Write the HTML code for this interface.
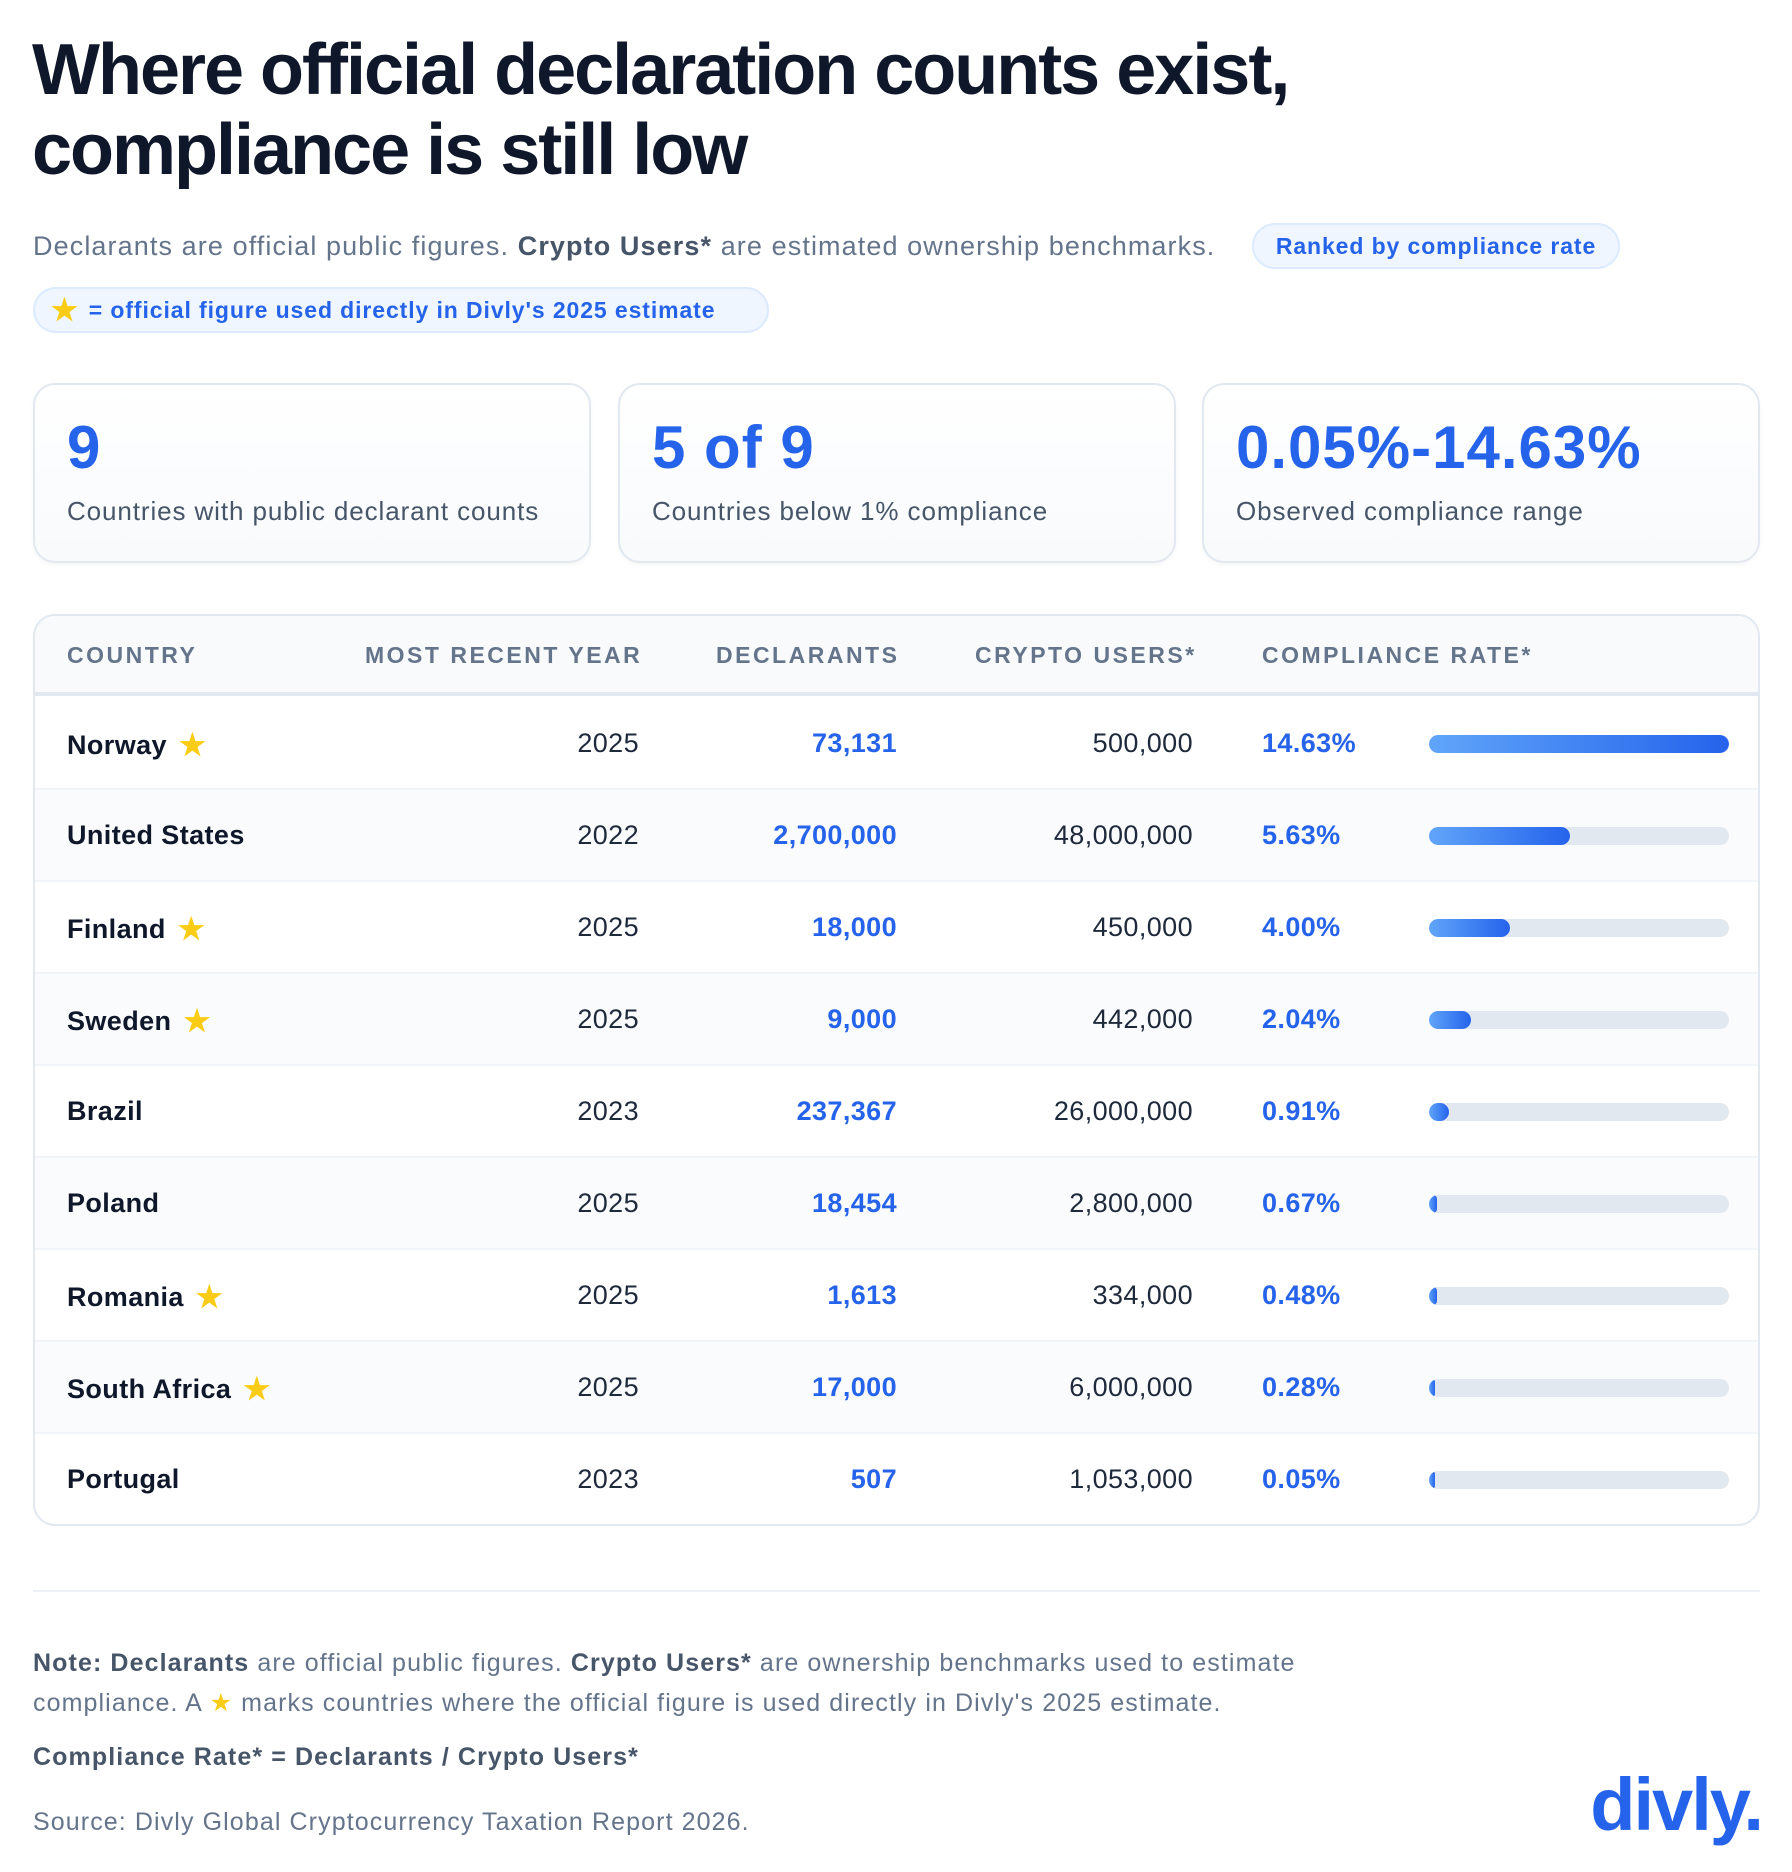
<!DOCTYPE html>
<html><head><meta charset="utf-8"><style>
*{margin:0;padding:0;box-sizing:border-box}
body{width:1792px;height:1872px;background:#fff;font-family:"Liberation Sans",sans-serif;color:#0f172a;position:relative;overflow:hidden}
.abs{position:absolute;white-space:nowrap}
h1{position:absolute;left:32px;top:30px;font-size:72px;line-height:80px;font-weight:700;letter-spacing:-2px;color:#0f172a}
.sub{left:33px;top:231px;font-size:27px;color:#64748b;letter-spacing:1.1px}
.sub b{color:#475569}
.pill{background:#eff6ff;border:2px solid #dbeafe;border-radius:24px;color:#2563eb;font-weight:700;font-size:23px;display:flex;align-items:center;letter-spacing:0.9px}
.card{position:absolute;top:383px;width:558px;height:180px;border:2px solid #e2e8f0;border-radius:22px;background:linear-gradient(#fff,#f8fafc);box-shadow:0 2px 4px rgba(0,0,0,.04)}
.card .n{position:absolute;left:32px;top:28px;font-size:60px;font-weight:700;color:#2563eb;letter-spacing:1px}
.card .l{position:absolute;left:32px;top:111px;font-size:26px;color:#475569;letter-spacing:0.9px}
.tbl{position:absolute;left:33px;top:614px;width:1727px;height:912px;border:2px solid #e2e8f0;border-radius:22px;overflow:hidden}
.hd{position:absolute;left:0;top:0;width:100%;height:80px;background:#f8fafc;border-bottom:4px solid #e2e8f0}
.hd span{position:absolute;top:26px;font-size:23px;font-weight:700;color:#64748b;letter-spacing:2.5px}
.row{position:absolute;left:0;width:100%;height:92px;border-bottom:2px solid #f1f5f9;font-size:27px;letter-spacing:0.4px}
.row>span{position:absolute;top:30px}
.c{left:32px;font-weight:700}
.y{right:1119px;color:#1e293b}
.d{right:861px;color:#2563eb;font-weight:700}
.u{right:565px;color:#1e293b}
.r{left:1227px;color:#2563eb;font-weight:700}
.bar{position:absolute;left:1394px;top:37px;width:300px;height:18px;border-radius:9px;background:#e2e8f0;overflow:hidden}
.bar i{display:block;height:100%;border-radius:9px;background:linear-gradient(90deg,#60a5fa,#2563eb);min-width:6px}
.star{color:#facc15;font-size:30px;margin-left:12px;vertical-align:-1px}
.foot{font-size:25px;color:#64748b;letter-spacing:1.1px}
.foot b{color:#475569}
</style></head><body>
<h1>Where official declaration counts exist,<br>compliance is still low</h1>
<div class="abs sub">Declarants are official public figures. <b>Crypto Users*</b> are estimated ownership benchmarks.</div>
<div class="abs pill" style="left:1252px;top:223px;width:368px;height:46px;justify-content:center">Ranked by compliance rate</div>
<div class="abs pill" style="left:33px;top:287px;width:736px;height:46px;padding-left:16px"><span style="color:#facc15;font-size:30px;margin-right:10px">★</span>= official figure used directly in Divly's 2025 estimate</div>

<div class="card" style="left:33px"><div class="n">9</div><div class="l">Countries with public declarant counts</div></div>
<div class="card" style="left:618px"><div class="n">5 of 9</div><div class="l">Countries below 1% compliance</div></div>
<div class="card" style="left:1202px"><div class="n">0.05%-14.63%</div><div class="l">Observed compliance range</div></div>

<div class="tbl">
<div class="hd"><span style="left:32px">COUNTRY</span><span style="left:330px">MOST RECENT YEAR</span><span style="left:681px">DECLARANTS</span><span style="left:940px">CRYPTO USERS*</span><span style="left:1227px">COMPLIANCE RATE*</span></div>
<div class="row" style="top:82px"><span class="c">Norway<span class="star">★</span></span><span class="y">2025</span><span class="d">73,131</span><span class="u">500,000</span><span class="r">14.63%</span><div class="bar"><i style="width:100%"></i></div></div>
<div class="row" style="top:174px;background:#fafbfc"><span class="c">United States</span><span class="y">2022</span><span class="d">2,700,000</span><span class="u">48,000,000</span><span class="r">5.63%</span><div class="bar"><i style="width:47%"></i></div></div>
<div class="row" style="top:266px"><span class="c">Finland<span class="star">★</span></span><span class="y">2025</span><span class="d">18,000</span><span class="u">450,000</span><span class="r">4.00%</span><div class="bar"><i style="width:27%"></i></div></div>
<div class="row" style="top:358px;background:#fafbfc"><span class="c">Sweden<span class="star">★</span></span><span class="y">2025</span><span class="d">9,000</span><span class="u">442,000</span><span class="r">2.04%</span><div class="bar"><i style="width:14%"></i></div></div>
<div class="row" style="top:450px"><span class="c">Brazil</span><span class="y">2023</span><span class="d">237,367</span><span class="u">26,000,000</span><span class="r">0.91%</span><div class="bar"><i style="width:6.5%"></i></div></div>
<div class="row" style="top:542px;background:#fafbfc"><span class="c">Poland</span><span class="y">2025</span><span class="d">18,454</span><span class="u">2,800,000</span><span class="r">0.67%</span><div class="bar"><i style="width:2.5%"></i></div></div>
<div class="row" style="top:634px"><span class="c">Romania<span class="star">★</span></span><span class="y">2025</span><span class="d">1,613</span><span class="u">334,000</span><span class="r">0.48%</span><div class="bar"><i style="width:2.5%"></i></div></div>
<div class="row" style="top:726px;background:#fafbfc"><span class="c">South Africa<span class="star">★</span></span><span class="y">2025</span><span class="d">17,000</span><span class="u">6,000,000</span><span class="r">0.28%</span><div class="bar"><i style="width:2%"></i></div></div>
<div class="row" style="top:818px;border-bottom:none"><span class="c">Portugal</span><span class="y">2023</span><span class="d">507</span><span class="u">1,053,000</span><span class="r">0.05%</span><div class="bar"><i style="width:2%"></i></div></div>
</div>

<div class="abs" style="left:33px;top:1590px;width:1727px;height:2px;background:#eef2f6"></div>
<div class="abs foot" style="top:1643px;left:33px;line-height:40px"><b>Note: Declarants</b> are official public figures. <b>Crypto Users*</b> are ownership benchmarks used to estimate<br>compliance. A <span style="color:#facc15">★</span> marks countries where the official figure is used directly in Divly's 2025 estimate.</div>
<div class="abs foot" style="top:1743px;left:33px"><b>Compliance Rate* = Declarants / Crypto Users*</b></div>
<div class="abs foot" style="top:1808px;left:33px">Source: Divly Global Cryptocurrency Taxation Report 2026.</div>
<div class="abs" style="right:30px;top:1762px;font-size:74px;font-weight:700;color:#2563eb;letter-spacing:-2px">divly.</div>
</body></html>
